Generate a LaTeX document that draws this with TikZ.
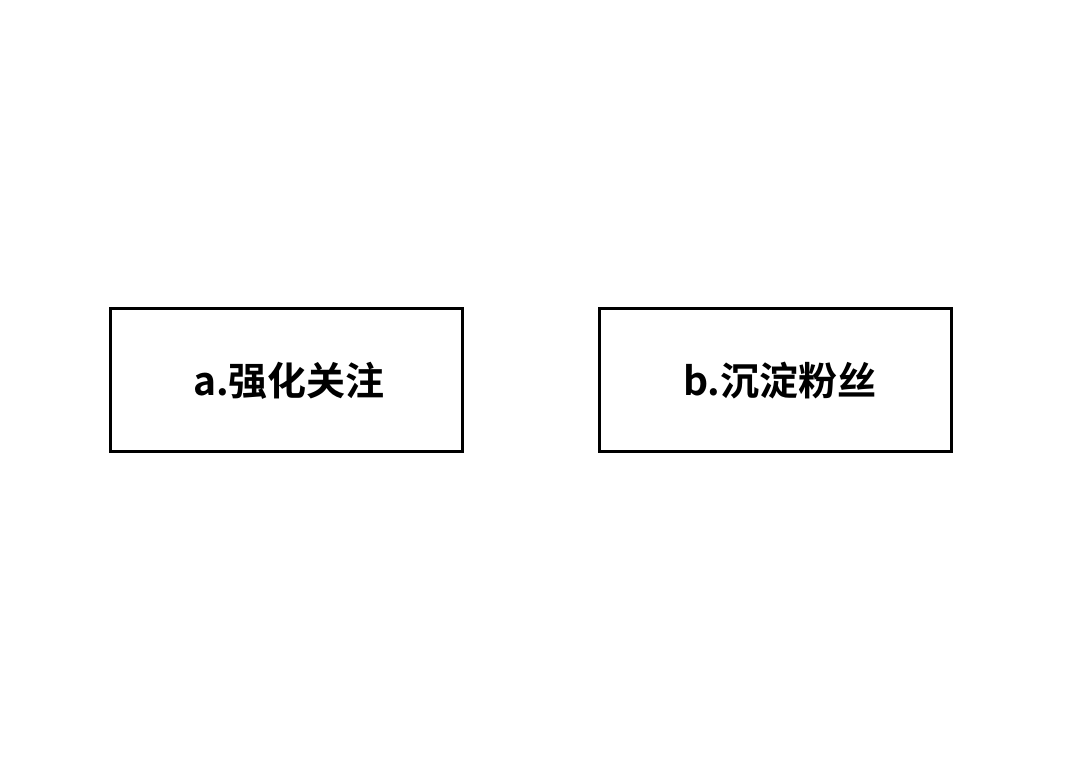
\documentclass[tikz,border=0pt]{standalone}
\usepackage{fontspec}
\newfontfamily\cjk{Noto Sans CJK SC}[BoldFont={* Bold}]
\begin{document}
\begin{tikzpicture}[x=1pt,y=1pt,
  card/.style={draw=black,line width=3pt,minimum width=352pt,minimum height=143pt,inner sep=0pt,
    font=\cjk\bfseries\fontsize{39}{44}\selectfont}]
\useasboundingbox (0,0) rectangle (1080,776);
\node[card] (a) at (286,395.5) {\raisebox{-3pt}{\hspace*{6pt}a.强化关注}};
\node[card] (b) at (775,395.5) {\raisebox{-3pt}{\hspace*{10pt}b.沉淀粉丝}};
\end{tikzpicture}
\end{document}
